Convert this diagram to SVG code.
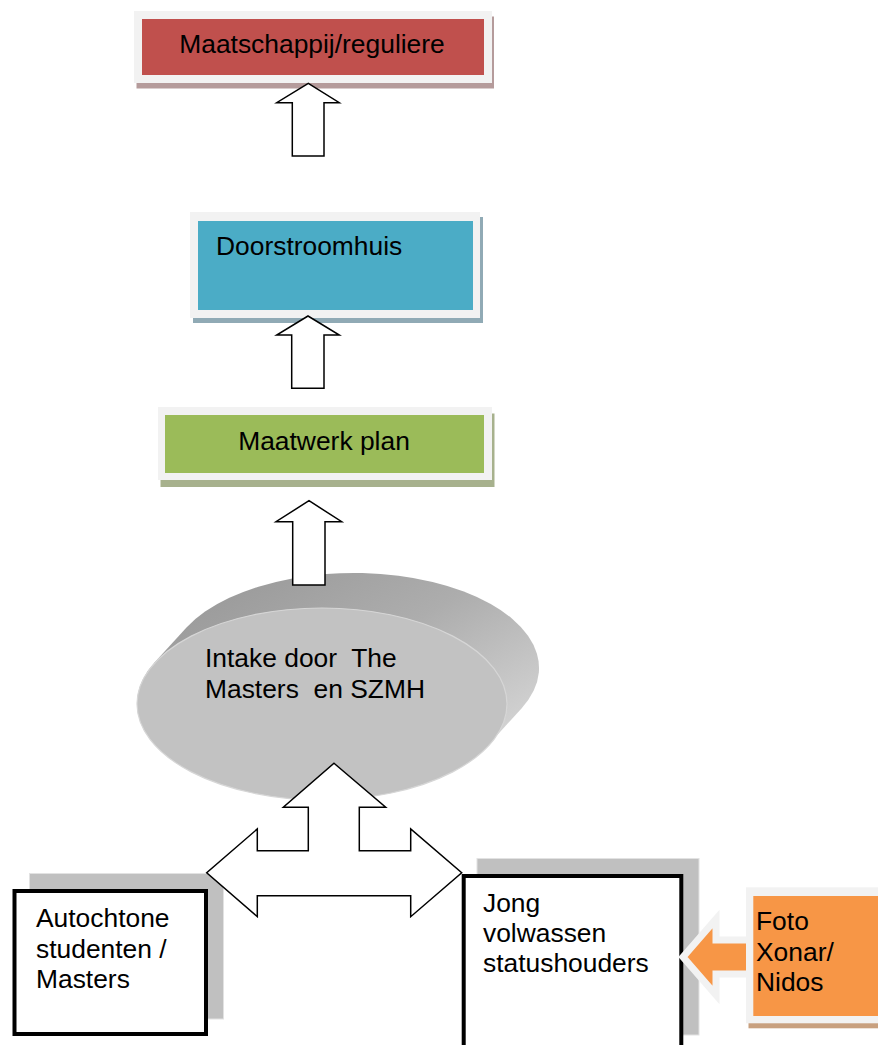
<svg xmlns="http://www.w3.org/2000/svg" width="878" height="1045" viewBox="0 0 878 1045">
  <defs>
    <linearGradient id="diskSide" x1="0" y1="0" x2="1" y2="1">
      <stop offset="0" stop-color="#939393"/>
      <stop offset="0.45" stop-color="#adadad"/>
      <stop offset="1" stop-color="#e6e6e6"/>
    </linearGradient>
  </defs>
  <style>
    text { font-family: "Liberation Sans", Arial, sans-serif; font-size: 26.4px; fill: #000; white-space: pre; }
    .frame { fill: #f2f2f2; }
    .arrow { fill: #fff; stroke: #000; stroke-width: 1.5; stroke-linejoin: miter; }
    .box { fill: #fff; stroke: #000; stroke-width: 4; }
    .back { fill: #c0c0c0; stroke: #e2e2e2; stroke-width: 1; }
  </style>
  <rect width="878" height="1045" fill="#fff"/>

  <g id="node-maatschappij">
    <rect x="136.5" y="16.5" width="357.5" height="72" fill="#b59b9b"/>
    <rect class="frame" x="134" y="11" width="358" height="72"/>
    <rect x="142" y="19" width="342" height="56" fill="#c0504d"/>
    <text x="312" y="53" text-anchor="middle">Maatschappij/reguliere</text>
  </g>

  <g id="node-doorstroomhuis">
    <rect x="193" y="217" width="290" height="106" fill="#90aab5"/>
    <rect class="frame" x="190" y="212" width="290" height="106"/>
    <rect x="198" y="221" width="275" height="89" fill="#4bacc6"/>
    <text x="216" y="255">Doorstroomhuis</text>
  </g>

  <g id="node-maatwerk">
    <rect x="160.5" y="413.5" width="334" height="73.5" fill="#a7b18d"/>
    <rect class="frame" x="158" y="407" width="334" height="73"/>
    <rect x="165" y="415" width="319" height="58" fill="#9bbb59"/>
    <text x="324" y="450" text-anchor="middle">Maatwerk plan</text>
  </g>

  <g id="node-intake">
    <path d="M154.5,662.6 L186.5,627.6 A185,95 0 0 1 521.5,708.4 L489.5,743.4 A185,95 0 0 1 154.5,662.6 Z" fill="url(#diskSide)"/>
    <ellipse cx="322" cy="704" rx="185" ry="96" fill="#c2c2c2" stroke="#d6d6d6" stroke-width="1.2"/>
    <text x="205" y="667" xml:space="preserve">Intake door  The</text>
    <text x="205" y="698" xml:space="preserve">Masters  en SZMH</text>
  </g>

  <g id="node-autochtone">
    <rect class="back" x="29.5" y="873.5" width="194" height="145.5"/>
    <rect class="box" x="14.5" y="891" width="191.5" height="143"/>
    <text x="36" y="927">Autochtone</text>
    <text x="36" y="957.5">studenten /</text>
    <text x="36" y="988">Masters</text>
  </g>

  <g id="node-jong">
    <rect class="back" x="477" y="858.5" width="222" height="176.5"/>
    <rect class="box" x="463.7" y="876" width="217.6" height="200"/>
    <text x="483" y="912">Jong</text>
    <text x="483" y="942">volwassen</text>
    <text x="483" y="972">statushouders</text>
  </g>

  <g id="connectors">
    <polygon class="arrow" points="308.3,83.3 339.3,102.7 324,102.7 324,156 292.3,156 292.3,102.7 276.7,102.7"/>
    <polygon class="arrow" points="308,316 339.3,335 324,335 324,388.3 291.7,388.3 291.7,335 276.7,335"/>
    <polygon class="arrow" points="309,500.7 341.7,521.7 325,521.7 325,585 292.7,585 292.7,521.7 276,521.7"/>
    <polygon class="arrow" points="334,763.3 385.7,807.3 359.3,807.3 359.3,850.7 410.7,850.7 410.7,829 461.7,872.7 410.7,916.7 410.7,895.7 257.3,895.7 257.3,916.7 206.7,872.7 257.3,829 257.3,850.7 308.3,850.7 308.3,807.3 283.3,807.3"/>
    <polygon points="686,960 719,922 719,943 755,943 755,977 719,977 719,998" fill="#c8a07f"/>
    <polygon points="683,957 716,919 716,940 752,940 752,974 716,974 716,995" fill="#f79646" stroke="#f2f2f2" stroke-width="7" stroke-linejoin="miter"/>
  </g>

  <g id="node-foto">
    <rect x="748.5" y="892" width="140" height="136.3" fill="#c8a07f"/>
    <rect class="frame" x="746" y="887.3" width="140" height="136"/>
    <rect x="753.3" y="896" width="130" height="120" fill="#f79646"/>
    <text x="756" y="930">Foto</text>
    <text x="756" y="960.5">Xonar/</text>
    <text x="756" y="991">Nidos</text>
  </g>
</svg>
